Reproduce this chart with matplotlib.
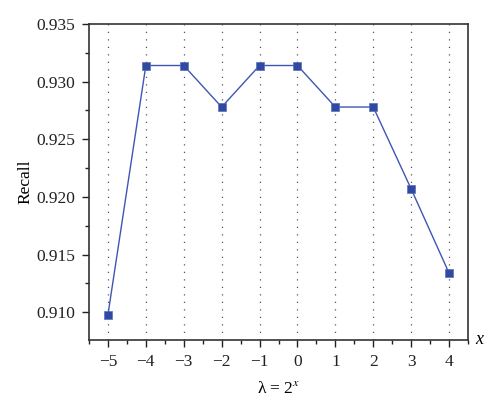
import matplotlib
matplotlib.use("Agg")
import matplotlib.pyplot as plt
from matplotlib.ticker import MultipleLocator

plt.rcParams['font.family'] = ['Liberation Serif', 'DejaVu Serif']
plt.rcParams['mathtext.fontset'] = 'stix'

x_vals = [-5, -4, -3, -2, -1, 0, 1, 2, 3, 4]
recall = [0.9098, 0.9314, 0.9314, 0.9278, 0.9314, 0.9314, 0.9278, 0.9278, 0.9207, 0.9134]
x_labels = ['−5', '−4', '−3', '−2', '−1', '0', '1', '2', '3', '4']
y_ticks = [0.910, 0.915, 0.920, 0.925, 0.930, 0.935]
y_labels = ['0.910', '0.915', '0.920', '0.925', '0.930', '0.935']

fig = plt.figure(figsize=(5, 4.08), dpi=100)
ax = fig.add_axes([0.178, 0.1667, 0.758, 0.7745])

for xv in x_vals:
    ax.axvline(xv, color='#555555', linestyle=(0, (1, 5)), linewidth=0.9, zorder=0)

ax.plot(x_vals, recall, color='#3f55b5', linewidth=1.0, marker='s', markersize=5.5,
        markerfacecolor='#2f4aa0', markeredgecolor='#5a6ec0', markeredgewidth=0.5)

ax.set_xlim(-5.5, 4.5)
ax.set_ylim(0.9076, 0.935)
ax.set_xticks(x_vals)
ax.set_xticklabels(x_labels)
ax.xaxis.set_minor_locator(MultipleLocator(0.5))
ax.set_yticks(y_ticks)
ax.set_yticklabels(y_labels)
ax.yaxis.set_minor_locator(MultipleLocator(0.0025))

ax.tick_params(axis='both', which='major', direction='out', length=5, width=1.0,
               labelsize=12.5, colors='#222222', labelcolor='#222222', pad=5)
ax.tick_params(axis='both', which='minor', direction='out', length=3, width=1.0, colors='#222222')
for sp in ax.spines.values():
    sp.set_linewidth(1.2)
    sp.set_color('#333333')

ax.set_ylabel('Recall', fontsize=12.5, labelpad=2)
ax.set_xlabel('λ = 2$^{x}$', fontsize=12.5, labelpad=8)
ax.text(1.02, 0.0, 'x', transform=ax.transAxes, fontsize=13, style='italic',
        ha='left', va='center')

fig.savefig('out.png', dpi=100)
